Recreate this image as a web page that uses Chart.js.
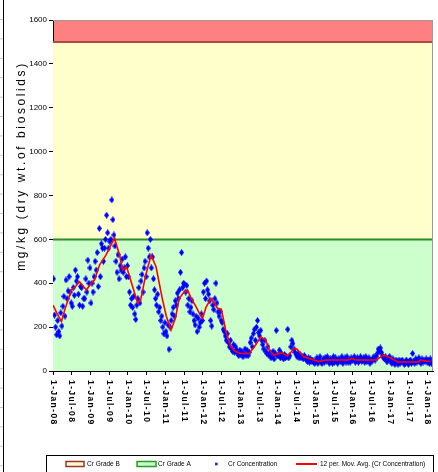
<!DOCTYPE html>
<html>
<head>
<meta charset="utf-8">
<script src="https://cdn.jsdelivr.net/npm/chart.js@4.4.0/dist/chart.umd.min.js"></script>
<style>
  html, body { margin: 0; padding: 0; background: #fff; }
  #wrap { width: 438px; height: 472px; }
</style>
</head>
<body>
<div id="wrap"><canvas id="crChart" width="438" height="472"></canvas></div>
<script>
// Cr concentration (mg/kg dry wt.), 3 samples per month
const cr2008 = [420,255,200, 165,230,180, 160,265,205, 295,340,250, 415,330,365, 430,360,310,
                295,380,345, 460,410,430, 350,300,385, 380,295,330, 330,420,360, 505,400,470];
const cr2009 = [310,400,360, 430,500,460, 540,385,650, 430,580,560, 500,560,600, 710,630,560,
                590,600,780, 690,620,570, 500,450,530, 420,480,460, 510,450,470, 520,430,480];
const cr2010 = [430,360,300, 330,290,340, 260,235,300, 330,380,310, 410,440,360, 470,500,430,
                630,560,520, 600,470,520, 420,370,330, 300,350,270, 290,230,250, 200,170,220];
const cr2011 = [180,160,210, 99,200,230, 260,290,250, 320,300,355, 330,370,450, 540,380,400,
                395,360,390, 300,330,270, 290,320,260, 230,210,250, 180,240,200, 220,260,230];
const cr2012 = [360,400,330, 410,370,350, 320,230,205, 300,280,330, 400,310,270, 250,270,230,
                220,190,180, 160,140,170, 130,110,140, 100,90,120, 85,110,95, 80,70,95];
const cr2013 = [75,90,65, 80,100,70, 95,70,85, 130,150,110, 170,190,140, 200,230,175,
                160,185,140, 120,100,140, 90,80,110, 70,85,60, 65,90,55, 80,185,70];
const cr2014 = [70,95,60, 80,65,55, 75,60,65, 190,60,70, 110,140,125, 100,85,75,
                65,80,60, 75,60,65, 55,70,60, 50,45,60, 40,55,45, 50,40,35];
const cr2015 = [45,60,35, 50,65,40, 35,55,40, 60,45,65, 50,35,55, 45,35,65,
                40,60,50, 35,55,50, 45,65,35, 50,60,40, 65,40,50, 40,60,50];
const cr2016 = [55,65,40, 50,60,40, 50,65,45, 50,60,40, 65,45,50, 60,35,50,
                45,60,65, 50,65,80, 100,90,105, 85,70,60, 55,65,45, 45,60,65];
const cr2017 = [45,35,55, 40,30,50, 45,30,50, 35,45,50, 40,30,35, 50,40,30,
                45,50,35, 80,45,35, 55,40,50, 60,45,35, 55,40,50, 45,55,40];
const cr2018 = [50,35,55,35];
const crByYear = [cr2008, cr2009, cr2010, cr2011, cr2012, cr2013, cr2014, cr2015, cr2016, cr2017, cr2018];
const SAMPLES_PER_MONTH = 3;

// 12 per. moving average trendline, months since 1-Jan-08
const maMonths = [0,1.2,2.7,4,5.9,7.2,8.5,10.7,12,13.3,14.9,17,18.4,19.7,21.3,22.3,23.6,25.4,27.1,28,
                  29.6,31.4,33,35,36.3,37.8,39.2,40.4,41.7,43.1,44.3,45.8,46.8,47.9,49,50.6,51.6,52.7,53.9,55.3,
                  56.9,58.3,60.1,62.8,64.9,66.5,68.1,69.2,70.8,72,73.4,75,76.2,77.1,78.1,80.3,83,85.1,87.4,94.7,
                  95.7,96.9,103.6,105.8,108.3,110.5,116.9,117.8,119.4,121];
const maValues = [300,265,225,290,369,385,407,369,395,415,483,529,570,606,529,460,474,390,310,320,
                  430,529,475,330,250,187,240,330,355,369,330,293,265,240,290,331,310,286,282,187,
                  111,90,80,80,118,156,141,96,73,78,83,68,85,103,100,65,53,43,50,50,
                  58,50,50,73,58,41,41,50,45,43];

const gradeALimit = 600;
const gradeBLimit = 1500;
const yMax = 1600;
const xMaxMonths = 121.7;

const xTickMonths = [0,6,12,18,24,30,36,42,48,54,60,66,72,78,84,90,96,102,108,114,120];
const xTickLabels = ['1-Jan-08','1-Jul-08','1-Jan-09','1-Jul-09','1-Jan-10','1-Jul-10','1-Jan-11',
                     '1-Jul-11','1-Jan-12','1-Jul-12','1-Jan-13','1-Jul-13','1-Jan-14','1-Jul-14',
                     '1-Jan-15','1-Jul-15','1-Jan-16','1-Jul-16','1-Jan-17','1-Jul-17','1-Jan-18'];

const FONT = '"Liberation Sans", Arial, sans-serif';

function makeDiamond(w, h, color) {
  const c = document.createElement('canvas');
  c.width = w; c.height = h;
  const g = c.getContext('2d');
  g.fillStyle = color;
  g.beginPath();
  g.moveTo(w / 2, 0); g.lineTo(w, h / 2); g.lineTo(w / 2, h); g.lineTo(0, h / 2);
  g.closePath(); g.fill();
  return c;
}

const crPoints = [];
crByYear.forEach((vals, yi) => {
  vals.forEach((v, i) => {
    crPoints.push({ x: yi * 12 + (i + 0.5) / SAMPLES_PER_MONTH, y: v });
  });
});
const maPoints = maMonths.map((m, i) => ({ x: m, y: maValues[i] }));

const decorPlugin = {
  id: 'decor',
  beforeDraw(chart) {
    const { ctx, chartArea: a } = chart;
    ctx.save();
    // page edge at the far left
    ctx.strokeStyle = '#000';
    ctx.lineWidth = 1;
    ctx.beginPath(); ctx.moveTo(3.5, 0); ctx.lineTo(3.5, chart.height); ctx.stroke();
    ctx.strokeStyle = '#c8c8c8';
    for (let y = 19.5; y < chart.height; y += 19.4) {
      ctx.beginPath(); ctx.moveTo(0, y); ctx.lineTo(3, y); ctx.stroke();
    }
    // plot background (red band above grade B)
    ctx.fillStyle = '#FF8080';
    ctx.fillRect(a.left, a.top, a.right - a.left, a.bottom - a.top);
    ctx.restore();
  },
  afterDraw(chart) {
    const { ctx, chartArea: a } = chart;
    const xs = chart.scales.x;
    ctx.save();
    // grey frame top / right
    ctx.strokeStyle = '#9a9a9a';
    ctx.lineWidth = 1;
    ctx.beginPath();
    ctx.moveTo(a.left, a.top + 0.5); ctx.lineTo(a.right - 0.5, a.top + 0.5); ctx.lineTo(a.right - 0.5, a.bottom);
    ctx.stroke();

    // x tick labels, rotated to read downwards
    ctx.fillStyle = '#000';
    ctx.font = 'bold 8.5px ' + FONT;
    ctx.letterSpacing = '1.4px';
    ctx.textAlign = 'left';
    ctx.textBaseline = 'middle';
    xs.ticks.forEach((t, i) => {
      const px = xs.getPixelForValue(t.value);
      ctx.save();
      ctx.translate(px, xs.top + 9);
      ctx.rotate(Math.PI / 2);
      ctx.fillText(xTickLabels[i], 0, 0);
      ctx.restore();
    });

    // y axis title
    ctx.font = '12px ' + FONT;
    ctx.letterSpacing = '2.6px';
    ctx.textAlign = 'center';
    ctx.save();
    ctx.translate(22, 166);
    ctx.rotate(-Math.PI / 2);
    ctx.fillText('mg/kg (dry wt.of biosolids)', 0, 0);
    ctx.restore();

    // legend box
    ctx.letterSpacing = '0px';
    ctx.strokeStyle = '#000';
    ctx.strokeRect(46.5, 455.5, 387, 30);
    const ds = chart.data.datasets;
    const ly = 464;
    ctx.font = '6.5px ' + FONT;
    ctx.textAlign = 'left';

    ctx.fillStyle = '#FFFFCC'; ctx.strokeStyle = '#A03030'; ctx.lineWidth = 1.5;
    ctx.fillRect(66, ly - 2.5, 18, 5); ctx.strokeRect(66, ly - 2.5, 18, 5);
    ctx.fillStyle = '#000'; ctx.fillText(ds[3].label, 87, ly);

    ctx.fillStyle = '#CCFFCC'; ctx.strokeStyle = '#2A9A2A';
    ctx.fillRect(137, ly - 2.5, 19, 5); ctx.strokeRect(137, ly - 2.5, 19, 5);
    ctx.fillStyle = '#000'; ctx.fillText(ds[2].label, 158, ly);

    ctx.drawImage(makeDiamond(3, 4, '#0000FF'), 214.5, ly - 2);
    ctx.fillStyle = '#000'; ctx.fillText(ds[1].label, 228, ly);

    ctx.strokeStyle = '#FF0000'; ctx.lineWidth = 2;
    ctx.beginPath(); ctx.moveTo(296, ly); ctx.lineTo(317, ly); ctx.stroke();
    ctx.fillStyle = '#000'; ctx.fillText(ds[0].label, 320, ly);
    ctx.restore();
  }
};

new Chart(document.getElementById('crChart'), {
  type: 'line',
  data: {
    datasets: [
      {
        label: '12 per. Mov. Avg. (Cr Concentration)',
        data: maPoints,
        borderColor: '#FF0000',
        borderWidth: 1.6,
        pointRadius: 0,
        tension: 0,
        fill: false
      },
      {
        label: 'Cr Concentration',
        data: crPoints,
        showLine: false,
        pointStyle: makeDiamond(5, 7, '#0000FF'),
        pointRadius: 3,
        fill: false
      },
      {
        label: 'Cr Grade A',
        data: [{ x: 0, y: gradeALimit }, { x: xMaxMonths, y: gradeALimit }],
        borderColor: '#2A8C2A',
        borderWidth: 2,
        backgroundColor: '#CCFFCC',
        pointRadius: 0,
        fill: 'origin'
      },
      {
        label: 'Cr Grade B',
        data: [{ x: 0, y: gradeBLimit }, { x: xMaxMonths, y: gradeBLimit }],
        borderColor: '#B04848',
        borderWidth: 2,
        backgroundColor: '#FFFFCC',
        pointRadius: 0,
        fill: { value: gradeALimit }
      }
    ]
  },
  options: {
    responsive: false,
    animation: false,
    events: [],
    layout: { padding: { top: 20, right: 4, bottom: 0, left: 0 } },
    plugins: { legend: { display: false }, tooltip: { enabled: false } },
    scales: {
      x: {
        type: 'linear',
        min: 0,
        max: xMaxMonths,
        afterBuildTicks(scale) { scale.ticks = xTickMonths.map(v => ({ value: v })); },
        ticks: { display: false },
        grid: { drawOnChartArea: false, tickLength: 4, color: '#000' },
        border: { color: '#000', width: 1 },
        afterFit(scale) { scale.height = 101; }
      },
      y: {
        min: 0,
        max: yMax,
        ticks: {
          stepSize: 200,
          padding: 2,
          color: '#000',
          font: { family: FONT, size: 8 },
          callback: v => String(v)
        },
        grid: { drawOnChartArea: false, tickLength: 4, color: '#000' },
        border: { color: '#000', width: 1 },
        afterFit(scale) { scale.width = 53; }
      }
    }
  },
  plugins: [decorPlugin]
});
</script>
</body>
</html>
